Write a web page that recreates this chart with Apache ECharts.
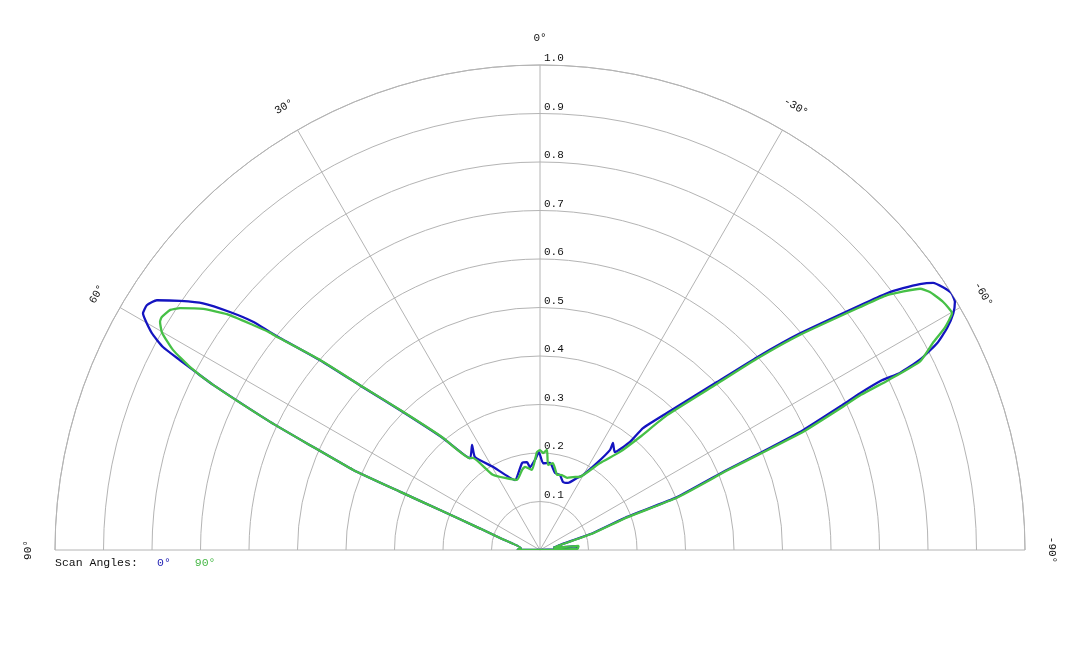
<!DOCTYPE html>
<html>
<head>
<meta charset="utf-8">
<title>Scan Angles</title>
<script src="https://cdn.jsdelivr.net/npm/echarts@6/dist/echarts.min.js"></script>
<style>
    html, body { margin: 0; padding: 0; background: #fff; }
    #main { width: 1080px; height: 648px; }
</style>
</head>
<body>
<div id="main"></div>
<script type="text/javascript">
    // tick labels
    var angleTicks = [-90, -60, -30, 0, 30, 60, 90];
    var angleLabels = ['-90°', '-60°', '-30°', '0°', '30°', '60°', '90°'];
    var ringValues = [0.1, 0.2, 0.3, 0.4, 0.5, 0.6, 0.7, 0.8, 0.9, 1.0];
    var ringLabels = ['0.1', '0.2', '0.3', '0.4', '0.5', '0.6', '0.7', '0.8', '0.9', '1.0'];

    // scan angle 0° (angle in degrees, normalised amplitude)
    var scan0Angle = [90, 89, 84, 73.3, 70.3, 68.2, 67.4, 66.8, 65.5, 64.6, 63.2, 62.7, 62.2, 61.7, 60.8, 59.2, 58.1, 56.9, 55.3, 53.8,
        52.5, 51.5, 51.1, 50.8, 49.2, 47.4, 44.8, 40.9, 37.3, 32.9, 35.0, 29.5, 19.7, 11.7, 8.4, 6.9, 3.2, 0.6, -2.0, -6.6, -11.0,
        -14.9, -18.7, -22.7, -27.2, -29.8, -33.2, -35.0, -34.3, -37.4, -39.8, -40.2, -42.8, -46.5, -48.4, -50.2, -52.6, -53.5, -54.2, -55.0, -55.8,
        -56.9, -58.0, -59.1, -60.2, -61.4, -62.5, -63.4, -63.8, -63.6, -63.9, -64.4, -65.5, -66.2, -66.8, -68.9, -69.2, -72.2, -76, -81, -84,
        -88, -88, -90];
    var scan0R = [0, 0.046, 0.04, 0.086, 0.131, 0.222, 0.313, 0.419, 0.521, 0.616, 0.755, 0.796, 0.839, 0.883, 0.917, 0.953, 0.955, 0.943, 0.902, 0.861,
        0.806, 0.756, 0.716, 0.692, 0.599, 0.496, 0.401, 0.305, 0.238, 0.258, 0.234, 0.197, 0.153, 0.183, 0.183, 0.172, 0.186, 0.202, 0.179, 0.181, 0.162,
        0.160, 0.148, 0.150, 0.167, 0.178, 0.214, 0.252, 0.267, 0.254, 0.290, 0.329, 0.385, 0.503, 0.599, 0.698, 0.831, 0.890, 0.923, 0.956, 0.980,
        0.992, 1.0, 0.997, 0.982, 0.956, 0.923, 0.876, 0.827, 0.787, 0.735, 0.690, 0.596, 0.496, 0.419, 0.303, 0.192, 0.115, 0.042, 0.028, 0.077,
        0.076, 0.031, 0];

    // scan angle 90°
    var scan90Angle = [90, 89, 84, 73.3, 70.3, 68.2, 67.4, 66.8, 65.5, 64.6, 63.2, 62.4, 61.4, 60.1, 59.0, 58.4, 57.0, 56.1, 54.4, 53.0,
        51.9, 51.2, 50.9, 49.2, 47.4, 44.8, 40.9, 37.3, 36.1, 32.1, 18.2, 12.7, 10.2, 5.7, 1.8, 0, -1.8, -4.0, -5.4, -8.5, -12.8,
        -16.3, -20.6, -24.3, -28.7, -34.6, -39.2, -41.5, -43.3, -46.8, -48.6, -50.4, -52.8, -53.7, -55.5, -56.5, -58.4, -60.1, -61.2, -62.2, -63.6,
        -64.0, -64.2, -64.7, -65.8, -66.4, -67.0, -69.1, -69.5, -72.5, -76.5, -81, -84, -88, -89, -90];
    var scan90R = [0, 0.046, 0.04, 0.086, 0.131, 0.222, 0.313, 0.419, 0.521, 0.616, 0.755, 0.814, 0.862, 0.899, 0.914, 0.916, 0.909, 0.894, 0.854, 0.808,
        0.752, 0.717, 0.694, 0.601, 0.498, 0.403, 0.307, 0.238, 0.235, 0.183, 0.152, 0.169, 0.174, 0.166, 0.202, 0.206, 0.200, 0.207, 0.176, 0.181, 0.159,
        0.161, 0.159, 0.165, 0.172, 0.218, 0.261, 0.311, 0.382, 0.500, 0.596, 0.696, 0.828, 0.888, 0.951, 0.964, 0.976, 0.980, 0.953, 0.916, 0.875,
        0.80, 0.735, 0.690, 0.596, 0.496, 0.419, 0.303, 0.192, 0.115, 0.042, 0.028, 0.08, 0.078, 0.03, 0];

    var mono = "'Liberation Mono', 'Courier New', monospace";
    var gridColor = '#b4b4b4';

    function pairs(rs, angles) {
        return rs.map(function (r, i) { return [r, angles[i]]; });
    }

    var myChart = echarts.init(document.getElementById('main'));
    var option = {
        animation: false,
        backgroundColor: '#fff',
        title: {
            text: 'Scan Angles:',
            left: 55, top: 557, padding: 0,
            textStyle: { fontFamily: mono, fontSize: 11.5, fontWeight: 'normal', color: '#111' }
        },
        legend: {
            left: 148, top: 557, padding: 0,
            itemWidth: 0, itemHeight: 10, itemGap: 15,
            itemStyle: { opacity: 0 },
            textStyle: { fontFamily: mono, fontSize: 11.5 },
            data: [
                { name: '0°', textStyle: { color: '#2424b4' } },
                { name: '90°', textStyle: { color: '#48b848' } }
            ]
        },
        polar: { center: [540, 550], radius: 485 },
        angleAxis: {
            type: 'value', min: -90, max: 90, interval: 30,
            startAngle: 0, endAngle: 180, clockwise: false,
            axisLine: { show: true, lineStyle: { color: gridColor, width: 1 } },
            axisTick: { show: false },
            axisLabel: { show: false },
            splitLine: { show: true, lineStyle: { color: gridColor, width: 1 } }
        },
        radiusAxis: {
            type: 'value', min: 0, max: 1, interval: 0.1,
            axisLine: { show: false },
            axisTick: { show: false },
            axisLabel: { show: false },
            splitLine: { show: true, lineStyle: { color: gridColor, width: 1 } }
        },
        series: [
            {
                name: '0°', type: 'line', coordinateSystem: 'polar',
                symbol: 'none', smooth: 0.15,
                lineStyle: { color: '#1414c0', width: 2.3 },
                itemStyle: { color: '#1414c0' },
                data: pairs(scan0R, scan0Angle)
            },
            {
                name: '90°', type: 'line', coordinateSystem: 'polar',
                symbol: 'none', smooth: 0.15,
                lineStyle: { color: '#46c046', width: 2.3 },
                itemStyle: { color: '#46c046' },
                data: pairs(scan90R, scan90Angle)
            },
            {
                // angle labels, turned along the rim
                type: 'custom', coordinateSystem: 'polar', silent: true,
                data: angleTicks.map(function (a, i) { return [1.055, a, i]; }),
                renderItem: function (params, api) {
                    var p = api.coord([api.value(0), api.value(1)]);
                    return {
                        type: 'text', x: p[0], y: p[1],
                        rotation: api.value(1) * Math.PI / 180,
                        style: {
                            text: angleLabels[api.value(2)], fill: '#111',
                            fontFamily: mono, fontSize: 11,
                            align: 'center', verticalAlign: 'middle'
                        }
                    };
                }
            },
            {
                // ring labels up the 0° spoke
                type: 'custom', coordinateSystem: 'polar', silent: true,
                data: ringValues.map(function (v, i) { return [v, 0, i]; }),
                renderItem: function (params, api) {
                    var p = api.coord([api.value(0), api.value(1)]);
                    return {
                        type: 'text', x: p[0] + 4, y: p[1] - 1,
                        style: {
                            text: ringLabels[api.value(2)], fill: '#111',
                            fontFamily: mono, fontSize: 11,
                            align: 'left', verticalAlign: 'bottom'
                        }
                    };
                }
            }
        ]
    };
    myChart.setOption(option);
</script>
</body>
</html>
